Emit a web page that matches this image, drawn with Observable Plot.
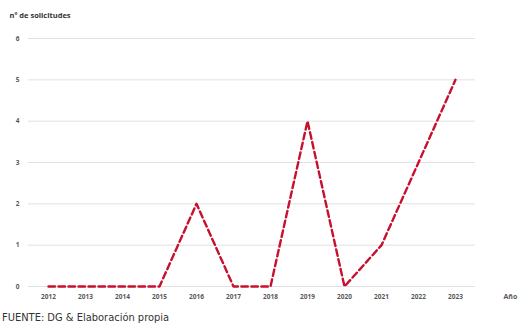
<!DOCTYPE html>
<html><head><meta charset="utf-8">
<script src="https://cdn.jsdelivr.net/npm/d3@7"></script>
<script src="https://cdn.jsdelivr.net/npm/@observablehq/plot@0.6"></script>
<style>
body{margin:0;background:#fff;}
#cap{font-family:"DejaVu Sans Condensed","Liberation Sans Narrow",sans-serif;font-stretch:condensed;font-size:11px;color:#333;margin:1px 0 0 2px;}
</style>
</head><body>
<div id="chart"></div>
<div id="cap">FUENTE: DG &amp; Elaboración propia</div>
<script>
const years = ["2012","2013","2014","2015","2016","2017","2018","2019","2020","2021","2022","2023"];
const solicitudes = [0,0,0,0,2,0,0,4,0,1,3,5];
const yTicks = [0,1,2,3,4,5,6];
const yTitle = "nº de solicitudes";
const xTitle = "Año";

const data = years.map((y,i)=>({year:y, value:solicitudes[i]}));
const chart = Plot.plot({
  width:518, height:310,
  marginLeft:28, marginRight:43, marginTop:38, marginBottom:24,
  style:{fontFamily:"'Open Sans',sans-serif", fontSize:"6.5px", fontWeight:"bold", color:"#595959"},
  x:{type:"point", domain:years, padding:0.5, label:null, tickSize:0, tickPadding:8},
  y:{domain:[0,6], ticks:yTicks, tickFormat:"d", label:null, tickSize:0, tickPadding:9},
  marks:[
    Plot.ruleY(yTicks,{stroke:"#d9d9d9", strokeWidth:0.8}),
    Plot.line(data,{x:"year", y:"value", stroke:"#c8102e", strokeWidth:2.4, strokeDasharray:"6.5,3.5"}),
    Plot.text([yTitle],{frameAnchor:"top-left", dx:-19, dy:-26, text:d=>d, fill:"#333", fontSize:7.5, fontWeight:"bold", textAnchor:"start"}),
    Plot.text([xTitle],{frameAnchor:"bottom-right", dx:28, dy:12, text:d=>d, fill:"#595959", fontSize:7, fontWeight:"bold", textAnchor:"start"})
  ]
});
document.getElementById("chart").append(chart);
</script>
</body></html>
